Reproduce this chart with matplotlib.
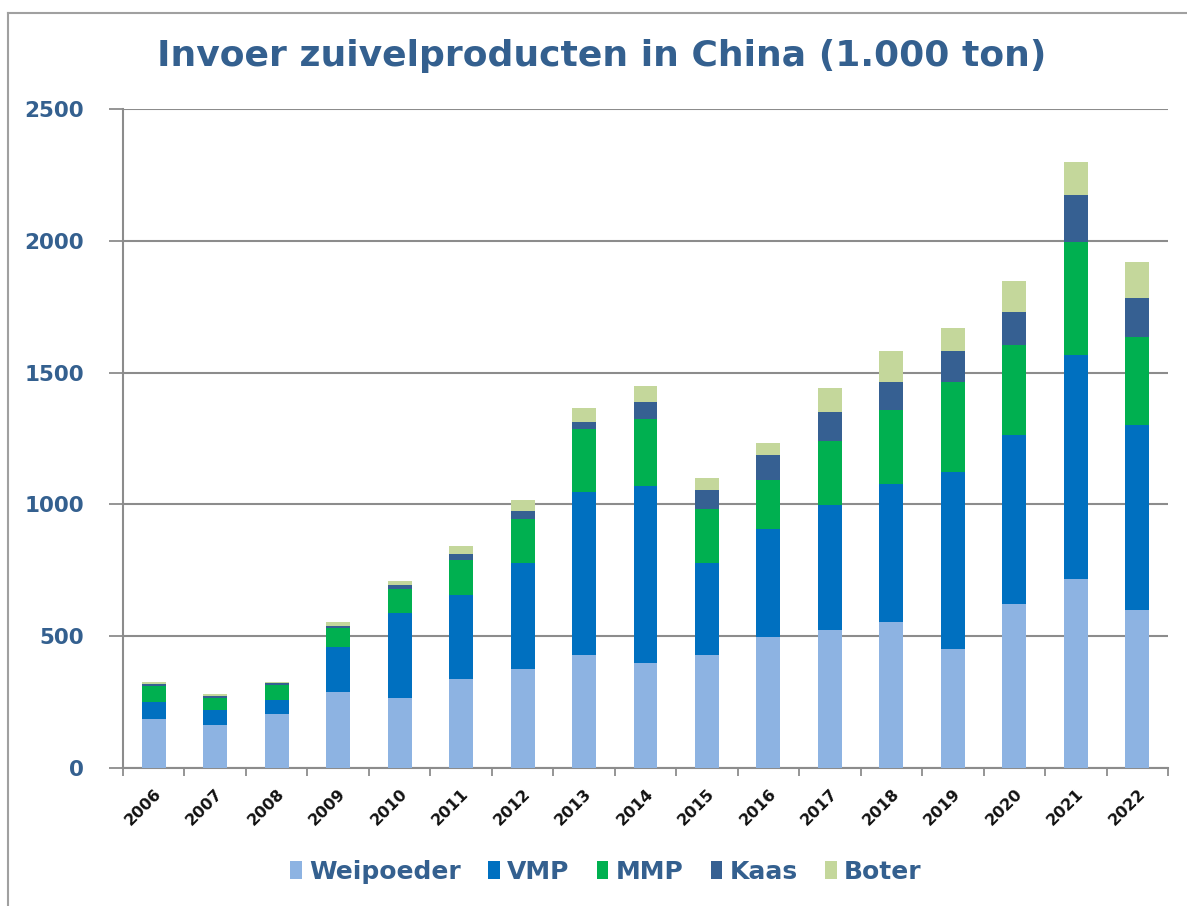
import numpy as np
import matplotlib.pyplot as plt
from matplotlib.lines import Line2D

# data (1.000 ton)
years = ['2006', '2007', '2008', '2009', '2010', '2011', '2012', '2013', '2014',
         '2015', '2016', '2017', '2018', '2019', '2020', '2021', '2022']
weipoeder = [185, 162, 206, 287, 264, 339, 375, 427, 398, 427, 496, 525, 554, 450, 621, 717, 600]
vmp = [66, 59, 52, 171, 325, 317, 401, 621, 673, 349, 412, 473, 525, 674, 642, 850, 701]
mmp = [60, 46, 56, 74, 89, 133, 168, 237, 252, 205, 184, 244, 280, 341, 340, 428, 333]
kaas = [9, 8, 7, 7, 15, 23, 30, 28, 64, 75, 96, 110, 106, 117, 127, 179, 148]
boter = [5, 6, 4, 14, 16, 29, 44, 52, 61, 44, 45, 90, 117, 89, 117, 125, 139]

series = [('Weipoeder', weipoeder, '#8DB3E2'),
          ('VMP', vmp, '#0070C0'),
          ('MMP', mmp, '#00B050'),
          ('Kaas', kaas, '#366092'),
          ('Boter', boter, '#C4D79B')]

text_blue = '#34608F'
grid_grey = '#8C8C8C'

fig = plt.figure(figsize=(11.87, 9.06), dpi=100)
ax = fig.add_axes([123 / 1187, 1 - 768 / 906, (1168 - 123) / 1187, (768 - 109) / 906])

x = np.arange(len(years))
bottom = np.zeros(len(years))
for name, vals, col in series:
    ax.bar(x, vals, width=0.39, bottom=bottom, color=col, label=name, zorder=3)
    bottom += np.array(vals)

ax.set_xlim(-0.5, len(years) - 0.5)
ax.set_ylim(0, 2500)
ax.set_yticks(range(0, 2501, 500))
ax.yaxis.grid(True, color=grid_grey, linewidth=1.5, zorder=0)

# ticks between the categories, labels in the middle
ax.set_xticks(np.arange(-0.5, len(years), 1.0))
ax.set_xticklabels([])
ax.set_xticks(x, minor=True)
ax.set_xticklabels(years, minor=True, rotation=45, ha='right', rotation_mode='anchor',
                   fontsize=11.5, fontweight='bold', color='#111111')
ax.tick_params(axis='x', which='major', length=6, width=1.3, color=grid_grey)
ax.tick_params(axis='x', which='minor', length=0, pad=13)
ax.tick_params(axis='y', length=10, width=1.3, color=grid_grey, pad=18,
               labelsize=15.5, labelcolor=text_blue)
for lab in ax.get_yticklabels():
    lab.set_fontweight('bold')

for side in ['top', 'right']:
    ax.spines[side].set_visible(False)
for side in ['left', 'bottom']:
    ax.spines[side].set_color(grid_grey)
    ax.spines[side].set_linewidth(1.5)

fig.text(602 / 1187, 1 - 56 / 906, 'Invoer zuivelproducten in China (1.000 ton)',
         ha='center', va='center', fontsize=26, fontweight='bold', color=text_blue)

leg = fig.legend(loc='center', bbox_to_anchor=(606 / 1187, 1 - 872 / 906), ncol=5,
                 frameon=False, handlelength=0.45, handleheight=0.75, handletextpad=0.3,
                 columnspacing=1.1, prop={'weight': 'bold', 'size': 18})
for t in leg.get_texts():
    t.set_color(text_blue)

# outer chart border (top and left only are inside the picture)
bx, by = 8 / 1187, 1 - 13 / 906
fig.add_artist(Line2D([bx, 1.0], [by, by], transform=fig.transFigure,
                      color='#A0A0A0', linewidth=1.5))
fig.add_artist(Line2D([bx, bx], [0.0, by], transform=fig.transFigure,
                      color='#A0A0A0', linewidth=1.5))

fig.savefig('out.png', dpi=100)
